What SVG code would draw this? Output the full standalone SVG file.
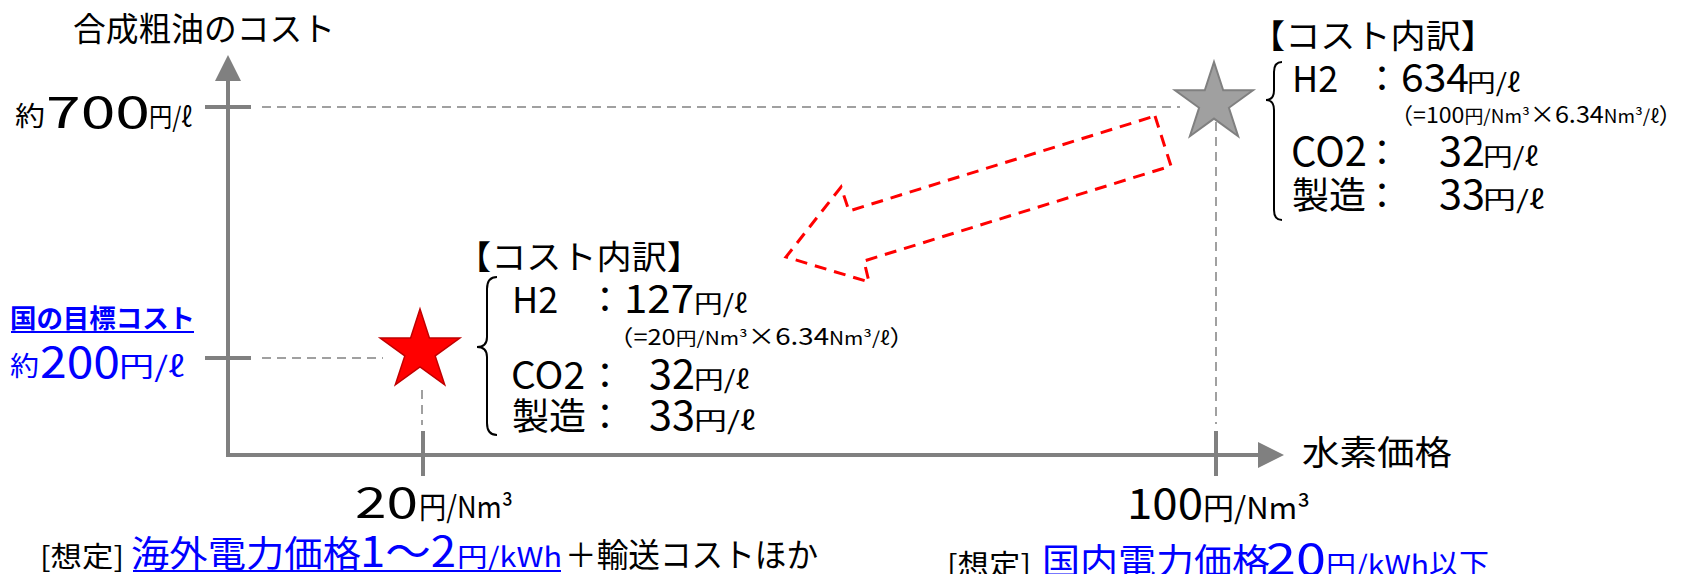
<svg xmlns="http://www.w3.org/2000/svg" width="1705" height="574" viewBox="0 0 1705 574">
<style>
text{font-family:'Noto Sans CJK JP','Noto Sans',sans-serif;fill:#000}
.b{fill:#0000FF}
.ax{stroke:#808080;stroke-width:4;fill:none}
.dash{stroke:#A0A0A0;stroke-width:2;stroke-dasharray:9 6;fill:none}
.brace{stroke:#000;stroke-width:2;fill:none}
</style>
<rect width="1705" height="574" fill="#fff"/>

<g id="axes">
<path class="ax" d="M228,81 V455 H1258" stroke-linejoin="miter"/>
<polygon points="228,55 215,81 241,81" fill="#808080"/>
<polygon points="1284,455 1258,442 1258,468" fill="#808080"/>
<line class="ax" x1="205" y1="107" x2="251" y2="107"/>
<line class="ax" x1="205" y1="358" x2="251" y2="358"/>
<line class="ax" x1="423" y1="431" x2="423" y2="476"/>
<line class="ax" x1="1216" y1="431" x2="1216" y2="476"/>
</g>

<g id="connectors">
<line class="dash" x1="262" y1="107" x2="1180" y2="107"/>
<line class="dash" x1="262" y1="358" x2="383" y2="358"/>
<line class="dash" x1="422" y1="390" x2="422" y2="425"/>
<polygon points="1155,116 1171,166 864,261 869,282 786,257 841,187 849,211" fill="none" stroke="#FF0000" stroke-width="3" stroke-dasharray="12 8"/>
</g>

<g id="star-target">
<polygon points="420,309 429.4,338 459.9,338 435.2,355.9 444.7,384.9 420,367 395.3,384.9 404.8,355.9 380.1,338 410.6,338" fill="#FF0000" stroke="#C00000" stroke-width="1.5"/>
</g>

<g id="star-current">
<polygon points="1214,62 1223.2,90.3 1253,90.3 1228.9,107.8 1238.1,136.2 1214,118.6 1189.9,136.2 1199.1,107.8 1175,90.3 1204.8,90.3" fill="#A0A0A0" stroke="#808080" stroke-width="2"/>
<line class="dash" x1="1216" y1="107" x2="1216" y2="424"/>
</g>

<g id="y-axis-label">
<text x="73" y="41" font-size="33" textLength="262" lengthAdjust="spacingAndGlyphs">合成粗油のコスト</text>
</g>

<g id="label-700">
<text x="15" y="126" font-size="27" textLength="30" lengthAdjust="spacingAndGlyphs">約</text>
<text x="46" y="128" font-size="43" textLength="104" lengthAdjust="spacingAndGlyphs">700</text>
<text x="149" y="127" font-size="27" textLength="43" lengthAdjust="spacingAndGlyphs">円/ℓ</text>
</g>

<g id="label-200">
<text class="b" x="10" y="328" font-size="26" font-weight="bold" textLength="185" lengthAdjust="spacingAndGlyphs">国の目標コスト</text>
<line x1="11" y1="332" x2="194" y2="332" stroke="#0000FF" stroke-width="2"/>
<text class="b" x="10" y="376" font-size="27" textLength="29" lengthAdjust="spacingAndGlyphs">約</text>
<text class="b" x="40" y="378" font-size="43" textLength="80" lengthAdjust="spacingAndGlyphs">200</text>
<text class="b" x="119" y="377" font-size="28" textLength="65" lengthAdjust="spacingAndGlyphs">円/ℓ</text>
</g>

<g id="breakdown-target">
<text x="456" y="269" font-size="33" textLength="246" lengthAdjust="spacingAndGlyphs">【コスト内訳】</text>
<path class="brace" d="M497,277 Q487,277 487,289 V337 Q487,347 477,347 Q487,347 487,357 V423 Q487,435 497,435"/>
<text x="512" y="313" font-size="36">H2</text>
<text x="605" y="313" font-size="36" text-anchor="middle">：</text>
<text x="624" y="313" font-size="39" textLength="70" lengthAdjust="spacingAndGlyphs">127</text>
<text x="694" y="313" font-size="25" textLength="53" lengthAdjust="spacingAndGlyphs">円/ℓ</text>
<text x="608" y="345" font-size="22" textLength="307" lengthAdjust="spacingAndGlyphs">（=20<tspan font-size="18">円/Nm³</tspan><tspan font-size="24">×6.34</tspan><tspan font-size="18">Nm³/ℓ</tspan>）</text>
<text x="511" y="389" font-size="38" textLength="74" lengthAdjust="spacingAndGlyphs">CO2</text>
<text x="605" y="389" font-size="36" text-anchor="middle">：</text>
<text x="649" y="389" font-size="40" textLength="46" lengthAdjust="spacingAndGlyphs">32</text>
<text x="694" y="389" font-size="25" textLength="55" lengthAdjust="spacingAndGlyphs">円/ℓ</text>
<text x="512" y="430" font-size="37" textLength="74" lengthAdjust="spacingAndGlyphs">製造</text>
<text x="605" y="430" font-size="36" text-anchor="middle">：</text>
<text x="649" y="430" font-size="40" textLength="46" lengthAdjust="spacingAndGlyphs">33</text>
<text x="694" y="430" font-size="25" textLength="61" lengthAdjust="spacingAndGlyphs">円/ℓ</text>
</g>

<g id="breakdown-current">
<text x="1250" y="48" font-size="33" textLength="246" lengthAdjust="spacingAndGlyphs">【コスト内訳】</text>
<path class="brace" d="M1282,62 Q1274,62 1274,72 V90 Q1274,100 1266,100 Q1274,100 1274,110 V210 Q1274,220 1282,220"/>
<text x="1292" y="92" font-size="36">H2</text>
<text x="1382" y="92" font-size="36" text-anchor="middle">：</text>
<text x="1401" y="92" font-size="39" textLength="68" lengthAdjust="spacingAndGlyphs">634</text>
<text x="1467" y="92" font-size="25" textLength="53" lengthAdjust="spacingAndGlyphs">円/ℓ</text>
<text x="1390" y="123" font-size="22" textLength="292" lengthAdjust="spacingAndGlyphs">（=100<tspan font-size="18">円/Nm³</tspan><tspan font-size="24">×6.34</tspan><tspan font-size="18">Nm³/ℓ</tspan>）</text>
<text x="1291" y="166" font-size="40" textLength="76" lengthAdjust="spacingAndGlyphs">CO2</text>
<text x="1382" y="166" font-size="36" text-anchor="middle">：</text>
<text x="1439" y="166" font-size="40" textLength="46" lengthAdjust="spacingAndGlyphs">32</text>
<text x="1483" y="166" font-size="25" textLength="55" lengthAdjust="spacingAndGlyphs">円/ℓ</text>
<text x="1292" y="209" font-size="37" textLength="74" lengthAdjust="spacingAndGlyphs">製造</text>
<text x="1382" y="209" font-size="36" text-anchor="middle">：</text>
<text x="1439" y="209" font-size="40" textLength="46" lengthAdjust="spacingAndGlyphs">33</text>
<text x="1483" y="209" font-size="25" textLength="61" lengthAdjust="spacingAndGlyphs">円/ℓ</text>
</g>

<g id="x-axis-label">
<text x="1302" y="465" font-size="34" textLength="150" lengthAdjust="spacingAndGlyphs">水素価格</text>
</g>

<g id="label-20">
<text x="355" y="518" font-size="42" textLength="63" lengthAdjust="spacingAndGlyphs">20</text>
<text x="419" y="518" font-size="30" textLength="94" lengthAdjust="spacingAndGlyphs">円/Nm³</text>
<text x="40" y="567" font-size="28" textLength="84" lengthAdjust="spacingAndGlyphs">[想定]</text>
<text class="b" x="131" y="567" font-size="36" textLength="230" lengthAdjust="spacingAndGlyphs">海外電力価格</text>
<text class="b" x="360" y="567" font-size="42" textLength="96" lengthAdjust="spacingAndGlyphs">1〜2</text>
<text class="b" x="457" y="567" font-size="27" textLength="105" lengthAdjust="spacingAndGlyphs">円/kWh</text>
<line x1="133" y1="571" x2="561" y2="571" stroke="#0000FF" stroke-width="2"/>
<text x="565" y="567" font-size="33" textLength="253" lengthAdjust="spacingAndGlyphs">＋輸送コストほか</text>
</g>

<g id="label-100">
<text x="1127" y="519" font-size="42" textLength="76" lengthAdjust="spacingAndGlyphs">100</text>
<text x="1203" y="519" font-size="30" textLength="107" lengthAdjust="spacingAndGlyphs">円/Nm³</text>
<text x="947" y="575" font-size="28" textLength="84" lengthAdjust="spacingAndGlyphs">[想定]</text>
<text class="b" x="1042" y="575" font-size="36" textLength="228" lengthAdjust="spacingAndGlyphs">国内電力価格</text>
<text class="b" x="1266" y="575" font-size="44" textLength="60" lengthAdjust="spacingAndGlyphs">20</text>
<text class="b" x="1326" y="575" font-size="27" textLength="103" lengthAdjust="spacingAndGlyphs">円/kWh</text>
<text class="b" x="1429" y="575" font-size="30" textLength="60" lengthAdjust="spacingAndGlyphs">以下</text>
</g>
</svg>
